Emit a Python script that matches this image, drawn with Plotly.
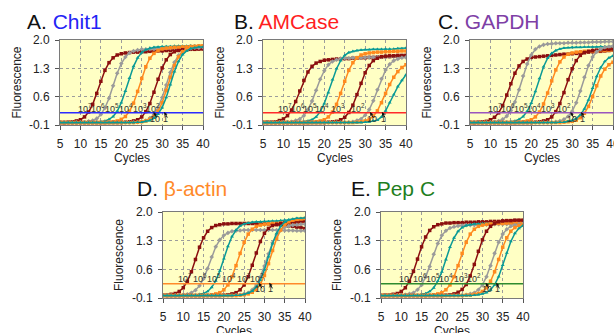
import plotly.graph_objects as go

# ---------------- data ----------------
CYCLES = list(range(5, 41))

DILUTION_LABELS = ["10<sup>7</sup>", "10<sup>6</sup>", "10<sup>5</sup>",
                   "10<sup>4</sup>", "10<sup>3</sup>", "10<sup>2</sup>"]
LOW_LABELS = ["10", "1"]

PANEL_LETTERS = ["A.", "B.", "C.", "D.", "E."]
PANEL_GENES = ["Chit1", "AMCase", "GAPDH", "β-actin", "Pep C"]
THRESHOLDS = [0.2, 0.2, 0.2, 0.25, 0.25]

X_TICKS = [5, 10, 15, 20, 25, 30, 35, 40]
Y_TICKS = [-0.1, 0.6, 1.3, 2.0]
Y_TICK_TEXT = ["-0.1", "0.6", "1.3", "2.0"]

# fluorescence per cycle (5..40); order 10^7,10^6,10^5,10^4,10^3,10^2,10,1
CHIT1 = [
    [-0.04,-0.04,-0.03,-0.02,0.00,0.03,0.10,0.22,0.41,0.68,0.98,1.25,1.44,1.56,1.63,1.66,1.68,1.69,1.70,1.70,1.71,1.71,1.72,1.72,1.73,1.73,1.74,1.74,1.75,1.75,1.76,1.76,1.77,1.77,1.78,1.78],
    [-0.04,-0.04,-0.04,-0.04,-0.04,-0.03,-0.03,-0.01,0.01,0.06,0.16,0.32,0.56,0.87,1.18,1.42,1.58,1.68,1.73,1.75,1.77,1.77,1.78,1.78,1.79,1.79,1.80,1.80,1.81,1.81,1.82,1.82,1.83,1.83,1.84,1.84],
    [-0.04,-0.04,-0.04,-0.04,-0.04,-0.04,-0.04,-0.04,-0.04,-0.03,-0.02,0.00,0.04,0.11,0.24,0.45,0.74,1.06,1.35,1.56,1.69,1.76,1.80,1.82,1.83,1.84,1.84,1.84,1.85,1.85,1.85,1.85,1.86,1.86,1.86,1.86],
    [-0.04,-0.04,-0.04,-0.04,-0.04,-0.04,-0.04,-0.04,-0.04,-0.04,-0.04,-0.04,-0.03,-0.02,0.00,0.04,0.11,0.24,0.44,0.73,1.05,1.34,1.55,1.67,1.74,1.78,1.80,1.81,1.82,1.82,1.83,1.83,1.84,1.84,1.85,1.85],
    [-0.04,-0.04,-0.04,-0.04,-0.04,-0.04,-0.04,-0.04,-0.04,-0.04,-0.04,-0.04,-0.04,-0.04,-0.04,-0.04,-0.03,-0.02,0.00,0.03,0.10,0.23,0.43,0.71,1.03,1.31,1.51,1.64,1.71,1.74,1.76,1.77,1.78,1.78,1.78,1.79],
    [-0.04,-0.04,-0.04,-0.04,-0.04,-0.04,-0.04,-0.04,-0.04,-0.04,-0.04,-0.04,-0.04,-0.04,-0.04,-0.04,-0.04,-0.04,-0.03,-0.03,-0.01,0.01,0.07,0.16,0.33,0.58,0.89,1.20,1.45,1.62,1.71,1.77,1.79,1.81,1.81,1.82],
    [-0.04,-0.04,-0.04,-0.04,-0.04,-0.04,-0.04,-0.04,-0.04,-0.04,-0.04,-0.04,-0.04,-0.04,-0.04,-0.04,-0.04,-0.04,-0.04,-0.03,-0.02,0.00,0.04,0.11,0.24,0.45,0.75,1.08,1.37,1.58,1.71,1.78,1.82,1.84,1.85,1.86],
    [-0.04,-0.04,-0.04,-0.04,-0.04,-0.04,-0.04,-0.04,-0.04,-0.04,-0.04,-0.04,-0.04,-0.04,-0.04,-0.04,-0.04,-0.04,-0.04,-0.03,-0.03,-0.01,0.01,0.07,0.17,0.33,0.58,0.90,1.22,1.47,1.64,1.73,1.79,1.81,1.83,1.83],
]
AMCASE = [
    [-0.04,-0.03,-0.03,-0.02,0.01,0.05,0.13,0.27,0.48,0.74,1.00,1.21,1.35,1.43,1.47,1.50,1.51,1.52,1.53,1.53,1.54,1.54,1.55,1.55,1.56,1.56,1.57,1.57,1.58,1.58,1.59,1.59,1.60,1.60,1.61,1.62],
    [-0.04,-0.04,-0.04,-0.04,-0.04,-0.03,-0.03,-0.02,0.01,0.05,0.13,0.28,0.49,0.76,1.03,1.24,1.39,1.47,1.51,1.54,1.55,1.55,1.56,1.56,1.56,1.57,1.57,1.57,1.58,1.58,1.58,1.59,1.59,1.59,1.60,1.60],
    [-0.04,-0.04,-0.04,-0.04,-0.04,-0.04,-0.04,-0.04,-0.04,-0.03,-0.02,0.00,0.03,0.10,0.23,0.43,0.70,1.02,1.29,1.49,1.62,1.69,1.72,1.74,1.75,1.76,1.76,1.77,1.77,1.77,1.78,1.78,1.78,1.79,1.79,1.80],
    [-0.04,-0.04,-0.04,-0.04,-0.04,-0.04,-0.04,-0.04,-0.04,-0.04,-0.04,-0.04,-0.03,-0.02,0.00,0.03,0.10,0.22,0.41,0.68,0.98,1.25,1.44,1.56,1.63,1.66,1.68,1.69,1.70,1.70,1.71,1.71,1.72,1.72,1.73,1.73],
    [-0.04,-0.04,-0.04,-0.04,-0.04,-0.04,-0.04,-0.04,-0.04,-0.04,-0.04,-0.04,-0.04,-0.04,-0.04,-0.04,-0.03,-0.02,-0.01,0.03,0.09,0.21,0.39,0.65,0.93,1.19,1.37,1.49,1.55,1.59,1.60,1.61,1.61,1.62,1.62,1.62],
    [-0.04,-0.04,-0.04,-0.04,-0.04,-0.04,-0.04,-0.04,-0.04,-0.04,-0.04,-0.04,-0.04,-0.04,-0.04,-0.04,-0.04,-0.04,-0.04,-0.04,-0.03,-0.03,-0.02,0.01,0.05,0.14,0.28,0.50,0.77,1.04,1.26,1.40,1.49,1.53,1.56,1.57],
    [-0.04,-0.04,-0.04,-0.04,-0.04,-0.04,-0.04,-0.04,-0.04,-0.04,-0.04,-0.04,-0.04,-0.04,-0.04,-0.04,-0.04,-0.04,-0.04,-0.04,-0.04,-0.04,-0.04,-0.03,-0.02,0.00,0.04,0.12,0.25,0.45,0.68,0.90,1.08,1.22,1.32,1.39],
    [-0.04,-0.04,-0.04,-0.04,-0.04,-0.04,-0.04,-0.04,-0.04,-0.04,-0.04,-0.04,-0.04,-0.04,-0.04,-0.04,-0.04,-0.04,-0.04,-0.04,-0.04,-0.04,-0.04,-0.04,-0.04,-0.03,-0.02,0.00,0.02,0.10,0.25,0.45,0.65,0.85,1.00,1.14],
]
GAPDH = [
    [-0.04,-0.04,-0.03,-0.02,-0.01,0.03,0.09,0.20,0.38,0.64,0.92,1.18,1.36,1.47,1.53,1.57,1.58,1.59,1.60,1.61,1.62,1.63,1.64,1.65,1.65,1.66,1.67,1.68,1.69,1.70,1.71,1.72,1.72,1.73,1.74,1.75],
    [-0.04,-0.04,-0.04,-0.04,-0.04,-0.03,-0.02,0.00,0.04,0.12,0.25,0.47,0.77,1.11,1.41,1.63,1.77,1.84,1.88,1.90,1.91,1.92,1.92,1.92,1.93,1.93,1.93,1.94,1.94,1.94,1.95,1.95,1.95,1.96,1.96,1.96],
    [-0.04,-0.04,-0.04,-0.04,-0.04,-0.04,-0.04,-0.04,-0.04,-0.03,-0.02,0.00,0.04,0.11,0.24,0.44,0.73,1.05,1.34,1.55,1.67,1.74,1.78,1.80,1.81,1.82,1.82,1.82,1.83,1.83,1.83,1.83,1.84,1.84,1.84,1.84],
    [-0.04,-0.04,-0.04,-0.04,-0.04,-0.04,-0.04,-0.04,-0.04,-0.04,-0.04,-0.04,-0.03,-0.02,0.00,0.03,0.10,0.22,0.42,0.69,0.99,1.26,1.46,1.58,1.65,1.68,1.70,1.71,1.72,1.72,1.73,1.73,1.74,1.74,1.75,1.76],
    [-0.04,-0.04,-0.04,-0.04,-0.04,-0.04,-0.04,-0.04,-0.04,-0.04,-0.04,-0.04,-0.04,-0.04,-0.04,-0.04,-0.03,-0.02,0.00,0.03,0.10,0.23,0.43,0.70,1.02,1.29,1.49,1.62,1.69,1.72,1.74,1.75,1.76,1.77,1.77,1.78],
    [-0.04,-0.04,-0.04,-0.04,-0.04,-0.04,-0.04,-0.04,-0.04,-0.04,-0.04,-0.04,-0.04,-0.04,-0.04,-0.04,-0.04,-0.04,-0.04,-0.04,-0.03,-0.02,0.00,0.04,0.11,0.24,0.45,0.74,1.08,1.37,1.58,1.71,1.78,1.82,1.84,1.85],
    [-0.04,-0.04,-0.04,-0.04,-0.04,-0.04,-0.04,-0.04,-0.04,-0.04,-0.04,-0.04,-0.04,-0.04,-0.04,-0.04,-0.04,-0.04,-0.04,-0.04,-0.04,-0.04,-0.04,-0.03,-0.02,-0.01,0.02,0.08,0.19,0.36,0.60,0.87,1.11,1.28,1.39,1.45],
    [-0.04,-0.04,-0.04,-0.04,-0.04,-0.04,-0.04,-0.04,-0.04,-0.04,-0.04,-0.04,-0.04,-0.04,-0.04,-0.04,-0.04,-0.04,-0.04,-0.04,-0.04,-0.04,-0.03,-0.03,-0.01,0.01,0.06,0.15,0.30,0.52,0.81,1.10,1.32,1.47,1.56,1.61],
]
BETA_ACTIN = [
    [-0.03,-0.03,-0.01,0.01,0.06,0.15,0.31,0.54,0.84,1.14,1.37,1.53,1.62,1.67,1.69,1.71,1.71,1.72,1.72,1.72,1.72,1.72,1.72,1.72,1.72,1.71,1.71,1.70,1.69,1.68,1.67,1.66,1.65,1.63,1.62,1.60],
    [-0.04,-0.04,-0.04,-0.04,-0.03,-0.02,-0.01,0.03,0.09,0.20,0.37,0.62,0.90,1.15,1.32,1.43,1.49,1.53,1.54,1.55,1.56,1.56,1.56,1.56,1.56,1.56,1.56,1.56,1.56,1.55,1.55,1.55,1.55,1.54,1.54,1.54],
    [-0.04,-0.04,-0.04,-0.04,-0.04,-0.04,-0.04,-0.03,-0.03,-0.01,0.01,0.06,0.16,0.32,0.56,0.86,1.16,1.40,1.56,1.66,1.71,1.73,1.75,1.76,1.76,1.77,1.77,1.78,1.78,1.79,1.80,1.80,1.81,1.82,1.83,1.84],
    [-0.04,-0.04,-0.04,-0.04,-0.04,-0.04,-0.04,-0.04,-0.04,-0.04,-0.04,-0.03,-0.02,0.00,0.03,0.10,0.22,0.42,0.69,0.99,1.26,1.46,1.58,1.65,1.68,1.70,1.71,1.72,1.72,1.73,1.74,1.74,1.75,1.76,1.77,1.78],
    [-0.04,-0.04,-0.04,-0.04,-0.04,-0.04,-0.04,-0.04,-0.04,-0.04,-0.04,-0.04,-0.04,-0.04,-0.04,-0.03,-0.02,0.00,0.03,0.10,0.22,0.42,0.70,1.00,1.28,1.48,1.60,1.67,1.70,1.72,1.73,1.74,1.75,1.75,1.76,1.77],
    [-0.04,-0.04,-0.04,-0.04,-0.04,-0.04,-0.04,-0.04,-0.04,-0.04,-0.04,-0.04,-0.04,-0.04,-0.04,-0.04,-0.04,-0.04,-0.03,-0.02,0.00,0.03,0.10,0.22,0.41,0.68,0.98,1.25,1.44,1.56,1.63,1.66,1.68,1.69,1.70,1.70],
    [-0.04,-0.04,-0.04,-0.04,-0.04,-0.04,-0.04,-0.04,-0.04,-0.04,-0.04,-0.04,-0.04,-0.04,-0.04,-0.04,-0.04,-0.04,-0.04,-0.03,-0.02,0.00,0.04,0.11,0.24,0.45,0.74,1.06,1.35,1.56,1.69,1.76,1.80,1.82,1.83,1.84],
    [-0.04,-0.04,-0.04,-0.04,-0.04,-0.04,-0.04,-0.04,-0.04,-0.04,-0.04,-0.04,-0.04,-0.04,-0.04,-0.04,-0.04,-0.04,-0.03,-0.03,-0.01,0.02,0.07,0.17,0.34,0.59,0.91,1.23,1.48,1.65,1.75,1.81,1.83,1.85,1.85,1.86],
]
PEP_C = [
    [-0.04,-0.03,-0.03,-0.01,0.01,0.06,0.15,0.31,0.55,0.85,1.15,1.39,1.55,1.64,1.69,1.71,1.73,1.73,1.74,1.74,1.74,1.75,1.75,1.75,1.76,1.76,1.76,1.77,1.77,1.77,1.78,1.78,1.78,1.79,1.79,1.79],
    [-0.04,-0.04,-0.04,-0.04,-0.04,-0.03,-0.02,0.00,0.03,0.10,0.22,0.41,0.67,0.97,1.23,1.43,1.54,1.61,1.64,1.66,1.67,1.68,1.68,1.68,1.68,1.69,1.69,1.69,1.70,1.70,1.70,1.70,1.71,1.71,1.72,1.72],
    [-0.04,-0.04,-0.04,-0.04,-0.04,-0.04,-0.04,-0.04,-0.03,-0.03,-0.01,0.01,0.06,0.15,0.31,0.54,0.84,1.14,1.37,1.53,1.62,1.67,1.69,1.71,1.71,1.72,1.72,1.72,1.72,1.73,1.73,1.73,1.73,1.74,1.74,1.74],
    [-0.04,-0.04,-0.04,-0.04,-0.04,-0.04,-0.04,-0.04,-0.04,-0.04,-0.04,-0.04,-0.03,-0.02,0.00,0.03,0.10,0.22,0.42,0.69,0.99,1.26,1.46,1.58,1.65,1.68,1.70,1.71,1.72,1.72,1.72,1.73,1.73,1.74,1.74,1.75],
    [-0.04,-0.04,-0.04,-0.04,-0.04,-0.04,-0.04,-0.04,-0.04,-0.04,-0.04,-0.04,-0.04,-0.04,-0.04,-0.04,-0.03,-0.02,0.00,0.04,0.11,0.23,0.44,0.72,1.04,1.32,1.53,1.65,1.72,1.76,1.78,1.79,1.79,1.80,1.80,1.80],
    [-0.04,-0.04,-0.04,-0.04,-0.04,-0.04,-0.04,-0.04,-0.04,-0.04,-0.04,-0.04,-0.04,-0.04,-0.04,-0.04,-0.04,-0.04,-0.04,-0.04,-0.03,-0.02,0.00,0.03,0.10,0.22,0.42,0.69,0.99,1.26,1.46,1.58,1.65,1.68,1.70,1.71],
    [-0.04,-0.04,-0.04,-0.04,-0.04,-0.04,-0.04,-0.04,-0.04,-0.04,-0.04,-0.04,-0.04,-0.04,-0.04,-0.04,-0.04,-0.04,-0.04,-0.04,-0.04,-0.03,-0.03,-0.01,0.01,0.06,0.15,0.31,0.54,0.84,1.14,1.37,1.53,1.62,1.67,1.69],
    [-0.04,-0.04,-0.04,-0.04,-0.04,-0.04,-0.04,-0.04,-0.04,-0.04,-0.04,-0.04,-0.04,-0.04,-0.04,-0.04,-0.04,-0.04,-0.04,-0.04,-0.04,-0.04,-0.04,-0.03,-0.02,0.00,0.03,0.10,0.22,0.42,0.70,1.00,1.28,1.48,1.60,1.67],
]

# label positions (cycle) of dilution tags above / below the threshold
LABEL_X = [
    [11.1, 14.4, 17.8, 21.1, 24.5, 27.8],
    [10.4, 13.6, 16.6, 19.5, 23.4, 28.3],
    [11.0, 14.2, 17.4, 20.6, 24.0, 28.0],
    [10.5, 14.0, 17.6, 21.2, 24.9, 28.2],
    [11.2, 14.5, 17.8, 21.0, 24.8, 28.0],
]
LOW_X = [
    [28.3, 30.9],
    [31.6, 34.5],
    [30.0, 32.6],
    [29.0, 31.6],
    [31.2, 33.8],
]

PANEL_DATA = [CHIT1, AMCASE, GAPDH, BETA_ACTIN, PEP_C]
for _p in PANEL_DATA:
    for _s in _p:
        assert len(_s) == len(CYCLES), len(_s)

# ---------------- style ----------------
W, H = 614, 333
FONT = "Arial, 'Liberation Sans', sans-serif"
DARKRED, GRAY, TEAL, ORANGE = "#8B0F0F", "#9A9A9A", "#0A9A96", "#FF8A1E"
SERIES_COLORS = [DARKRED, GRAY, TEAL, ORANGE, DARKRED, GRAY, ORANGE, TEAL]
SERIES_SYMBOLS = ["square", "diamond", "triangle-up", "square",
                  "square", "diamond", "square", "triangle-up"]
GENE_COLORS = ["#2323F5", "#FF1E1E", "#7E3FA6", "#FF8A2A", "#1F7F1F"]
THRESH_COLORS = ["#2B2BFF", "#FF2A2A", "#9A55BE", "#FF8A2A", "#2E8B2E"]
PLOT_BG = "#FFFFC4"

# (left, right, top, bottom) pixel boxes of the plot areas
BOXES = [(60, 203, 40, 125), (263, 406, 40, 125), (470, 613, 40, 125),
         (163, 305, 212, 298), (381, 523, 212, 298)]
TITLE_POS = [(25, 21), (232, 21), (436, 21), (135, 188), (349, 188)]


def px(x):
    return x / W


def py(y):
    return 1 - y / H


fig = go.Figure()
annotations = []

for i, data in enumerate(PANEL_DATA):
    n = i + 1
    xa = "x" if n == 1 else f"x{n}"
    ya = "y" if n == 1 else f"y{n}"
    for k, series in enumerate(data):
        fig.add_trace(go.Scatter(
            x=CYCLES, y=series, xaxis=xa, yaxis=ya, mode="lines+markers",
            line=dict(color=SERIES_COLORS[k], width=1.5),
            marker=dict(color=SERIES_COLORS[k], size=3.5, symbol=SERIES_SYMBOLS[k]),
            showlegend=False, hoverinfo="skip"))
    fig.add_trace(go.Scatter(
        x=[X_TICKS[0], X_TICKS[-1]], y=[THRESHOLDS[i], THRESHOLDS[i]],
        xaxis=xa, yaxis=ya, mode="lines",
        line=dict(color=THRESH_COLORS[i], width=1.5),
        showlegend=False, hoverinfo="skip"))

    l, r, t, b = BOXES[i]
    axis_common = dict(
        showline=True, mirror=True, linecolor="#7a7a7a", linewidth=1,
        showgrid=True, gridcolor="#9c9c9c", griddash="dot", gridwidth=1,
        zeroline=False, ticks="outside", ticklen=4, tickcolor="#555",
        automargin=False, ticklabeloverflow="allow",
        tickfont=dict(family=FONT, size=12, color="#222"),
    )
    fig.update_layout(**{
        ("xaxis" if n == 1 else f"xaxis{n}"): dict(
            axis_common, domain=[px(l), px(r)], anchor=ya,
            range=[X_TICKS[0], X_TICKS[-1]], tickvals=X_TICKS,
            ticklabelstandoff=4),
        ("yaxis" if n == 1 else f"yaxis{n}"): dict(
            axis_common, domain=[py(b), py(t)], anchor=xa,
            range=[Y_TICKS[0], Y_TICKS[-1]], tickvals=Y_TICKS,
            ticktext=Y_TICK_TEXT, ticklabelstandoff=3),
    })

    # titles
    tx, ty = TITLE_POS[i]
    annotations.append(dict(
        xref="paper", yref="paper", x=px(tx), y=py(ty), xanchor="left",
        yanchor="middle", showarrow=False,
        text=f"{PANEL_LETTERS[i]} <span style='color:{GENE_COLORS[i]}'>{PANEL_GENES[i]}</span>",
        font=dict(family=FONT, size=21, color="#111")))
    # axis titles
    annotations.append(dict(
        xref="paper", yref="paper", x=px(l - 44), y=py((t + b) / 2),
        xanchor="center", yanchor="middle",
        textangle=-90, showarrow=False, text="Fluorescence",
        font=dict(family=FONT, size=12, color="#222")))
    annotations.append(dict(
        xref="paper", yref="paper", x=px((l + r) / 2), y=py(b + 33),
        xanchor="center", yanchor="middle",
        showarrow=False, text="Cycles",
        font=dict(family=FONT, size=12, color="#222")))
    # dilution labels
    for j, lab in enumerate(DILUTION_LABELS):
        annotations.append(dict(
            xref=xa, yref=ya, x=LABEL_X[i][j], y=THRESHOLDS[i] + 0.13,
            xanchor="center", yanchor="middle",
            showarrow=False, text=lab,
            font=dict(family=FONT, size=9, color="#333")))
    for j, lab in enumerate(LOW_LABELS):
        annotations.append(dict(
            xref=xa, yref=ya, x=LOW_X[i][j], y=THRESHOLDS[i] - 0.14,
            xanchor="center", yanchor="middle",
            showarrow=False, text=lab,
            font=dict(family=FONT, size=9, color="#333")))
        annotations.append(dict(
            xref=xa, yref=ya, x=LOW_X[i][j] - 0.4, y=THRESHOLDS[i] + 0.02,
            ax=4, ay=7, showarrow=True, arrowhead=2, arrowsize=0.7,
            arrowwidth=1, arrowcolor="#111", text=""))

fig.update_layout(
    width=W, height=H, margin=dict(l=0, r=0, t=0, b=0, autoexpand=False),
    paper_bgcolor="white", plot_bgcolor=PLOT_BG,
    annotations=annotations, showlegend=False,
    font=dict(family=FONT),
)

fig.write_html("out.html",
               config={"displayModeBar": False},
               post_script="document.body.style.margin='0';"
                           "document.body.style.overflow='hidden';")
